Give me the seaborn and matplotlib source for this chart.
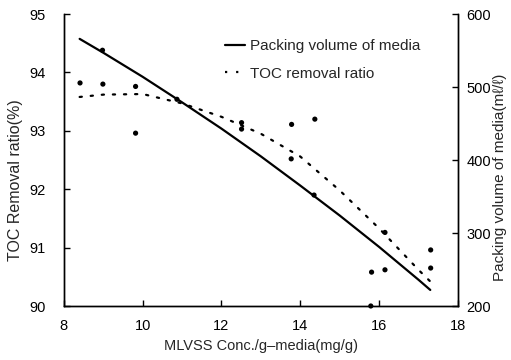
import matplotlib
matplotlib.use("Agg")
import matplotlib.pyplot as plt
import seaborn as sns
import pandas as pd
from matplotlib.lines import Line2D

# Measured TOC removal ratio (%) against MLVSS per gram of media
mlvss_obs = [8.41, 8.98, 8.99, 9.82, 9.82, 10.87, 12.51, 12.51, 13.78, 14.37,
             13.77, 14.35, 15.79, 15.81, 16.15, 16.15, 17.31, 17.31]
toc_obs = [93.82, 94.38, 93.80, 93.76, 92.96, 93.54, 93.14, 93.03, 93.11, 93.20,
           92.52, 91.90, 90.00, 90.58, 90.62, 91.26, 90.96, 90.65]

# Trend curves
mlvss_fit = [8.4, 9, 10, 11, 12, 13, 14, 15, 16, 17, 17.3]
toc_fit = [93.58, 93.62, 93.63, 93.47, 93.24, 92.95, 92.56, 91.98, 91.33, 90.62, 90.42]
packing_fit = [566, 547, 514, 479, 443, 405, 365, 324, 281, 236, 222]

x_ticks = [8, 10, 12, 14, 16, 18]
toc_ticks = [90, 91, 92, 93, 94, 95]
packing_ticks = [200, 300, 400, 500, 600]

sns.set_theme(style="white")
plt.rcParams["font.family"] = ["Liberation Sans", "DejaVu Sans"]
plt.rcParams["font.size"] = 10

fig = plt.figure(figsize=(5.11, 3.6), dpi=100)
ax = fig.add_axes([0.125, 0.15, 0.771, 0.811])
ax2 = ax.twinx()

obs = pd.DataFrame({"mlvss": mlvss_obs, "toc": toc_obs})
fit = pd.DataFrame({"mlvss": mlvss_fit, "toc": toc_fit, "packing": packing_fit})

sns.scatterplot(data=obs, x="mlvss", y="toc", ax=ax, color="black", s=14,
                edgecolor="none", zorder=3, clip_on=False)
sns.lineplot(data=fit, x="mlvss", y="toc", ax=ax, color="black", lw=1.6,
             linestyle=(0, (1, 4)), dash_capstyle="round")
sns.lineplot(data=fit, x="mlvss", y="packing", ax=ax2, color="black", lw=1.6)

ax.set_xlim(8, 18)
ax.set_ylim(90, 95)
ax2.set_ylim(200, 600)
ax.set_xticks(x_ticks)
ax.set_yticks(toc_ticks)
ax2.set_yticks(packing_ticks)

for a in (ax, ax2):
    a.spines["top"].set_visible(False)
    for s in ("left", "right", "bottom"):
        a.spines[s].set_color("black")
        a.spines[s].set_linewidth(1.0)

ax.tick_params(axis="x", direction="in", length=4, width=1, colors="black",
               labelsize=10.5, pad=9, bottom=True)
ax.tick_params(axis="y", direction="in", length=4, width=1, colors="black",
               labelsize=10.5, pad=13, left=True, right=False)
ax2.tick_params(axis="y", direction="in", length=4, width=1, colors="black",
                labelsize=10.5, right=True, pad=6)

ax.set_xlabel("MLVSS Conc./g\u2013media(mg/g)", fontsize=10.5, labelpad=5)
ax.set_ylabel("TOC Removal ratio(%)", fontsize=11.5)
ax2.set_ylabel("Packing volume of media(m\u2113/\u2113)", fontsize=11)
ax.yaxis.set_label_coords(-0.104, 0.43)
ax2.yaxis.set_label_coords(1.09, 0.44)

handles = [
    Line2D([], [], color="black", lw=1.6),
    Line2D([], [], color="black", lw=1.6, linestyle=(0, (1, 4))),
]
ax.legend(handles, ["Packing volume of media", "TOC removal ratio"],
          loc="upper left", bbox_to_anchor=(0.375, 0.962), frameon=False,
          handlelength=1.3, handletextpad=0.3, labelspacing=0.9, fontsize=11)

fig.savefig("out.png", dpi=100)
